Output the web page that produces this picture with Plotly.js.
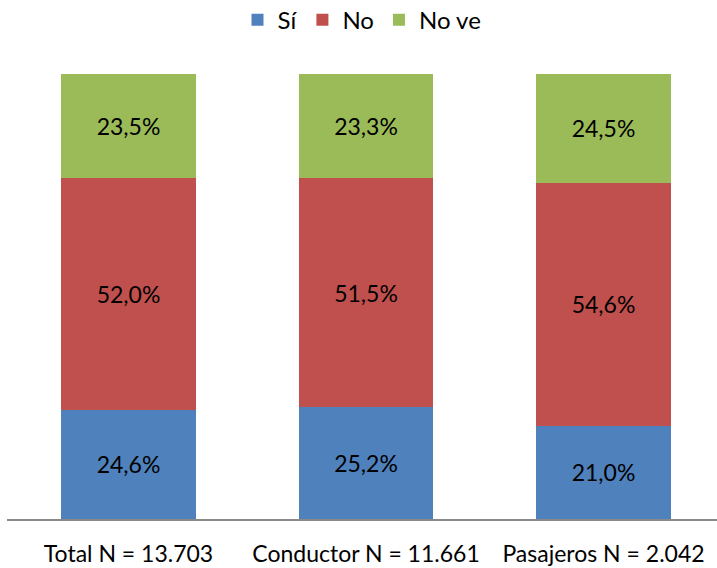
<!DOCTYPE html>
<html><head><meta charset="utf-8">
<script src="https://cdn.plot.ly/plotly-3.0.1.min.js"></script>
<style>html,body{margin:0;padding:0;background:#fff}</style>
</head><body><div id="chart" style="width:717px;height:568px"></div>
<script>
const categories = ["Total N = 13.703", "Conductor N = 11.661", "Pasajeros N = 2.042"];
const si = [24.6, 25.2, 21.0];
const no = [52.0, 51.5, 54.6];
const noVe = [23.5, 23.3, 24.5];

function tr(name, vals, color){
  return {type:'bar', name:name, x:categories, y:vals, marker:{color:color},
    width:0.568, texttemplate:'%{y:.1f}%', textposition:'inside', insidetextanchor:'middle',
    textfont:{family:'Lato, Carlito, sans-serif', size:23, color:'#000'}, hoverinfo:'none', constraintext:'none'};
}
const data = [tr('Sí', si, '#4F81BD'), tr('No', no, '#C0504D'), tr('No ve', noVe, '#9BBB59')];
const layout = {
  barmode:'stack', separators:',.', showlegend:true,
  margin:{l:7, r:0, t:74, b:49, autoexpand:false},
  paper_bgcolor:'#fff', plot_bgcolor:'#fff',
  font:{family:'Lato, Carlito, sans-serif', size:23, color:'#000'},
  xaxis:{type:'category', range:[-0.5116, 2.4779], showline:true, linecolor:'#898989', linewidth:1.5,
    ticks:'outside', ticklen:14, tickcolor:'rgba(0,0,0,0)', showgrid:false, zeroline:false,
    tickfont:{size:23}, automargin:false},
  yaxis:{range:[0,100.1], visible:false, showgrid:false, zeroline:false, automargin:false},
  legend:{orientation:'h', x:0.5, xanchor:'center', y:1.121, yanchor:'middle', font:{size:24},
    itemwidth:30, traceorder:'normal'}
};
Plotly.newPlot('chart', data, layout, {staticPlot:true});
</script></body></html>
